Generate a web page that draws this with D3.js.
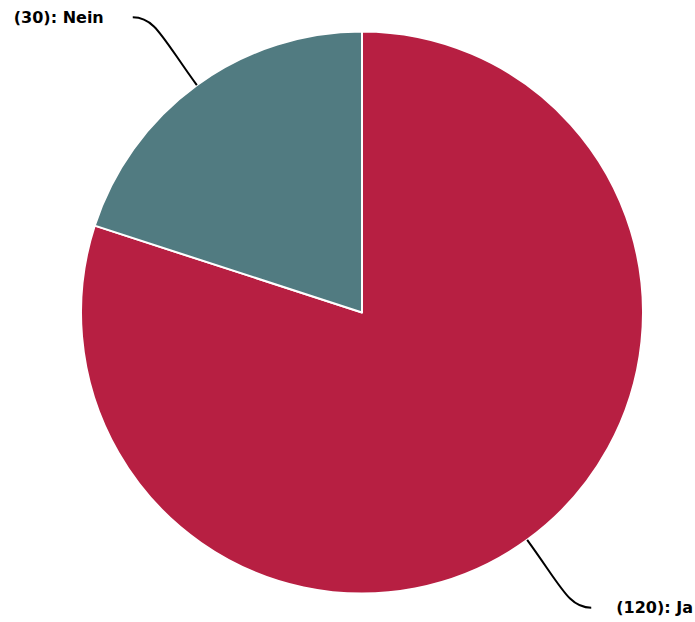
<!DOCTYPE html>
<html>
<head>
<meta charset="utf-8">
<script src="https://d3js.org/d3.v7.min.js"></script>
<style>
  body { margin: 0; background: #fff; }
  svg { display: block; }
</style>
</head>
<body>
<div id="chart"></div>
<script>
// datos del gráfico
const labels = ["Ja", "Nein"];
const values = [120, 30];
const colors = ["#b71f42", "#517b81"];

const width = 695;
const height = 622;
const cx = 362;
const cy = 312.5;
const radius = 281;

const svg = d3.select('#chart')
              .append('svg')
              .attr('width', width)
              .attr('height', height);

const g = svg.append('g')
             .attr('transform', `translate(${cx}, ${cy})`);

const pie = d3.pie()
              .sort(null)
              .value(d => d.value);

const data = pie(labels.map((l, i) => ({ label: l, value: values[i], color: colors[i] })));

const arc = d3.arc()
              .innerRadius(0)
              .outerRadius(radius);

g.selectAll('path.slice')
 .data(data)
 .enter()
 .append('path')
 .attr('class', 'slice')
 .attr('d', arc)
 .attr('fill', d => d.data.color)
 .attr('stroke', '#fff')
 .attr('stroke-width', 2)
 .attr('stroke-linejoin', 'round');

// conectores y etiquetas
data.forEach(d => {
    const a = (d.startAngle + d.endAngle) / 2;
    const sx = Math.sin(a), sy = -Math.cos(a);
    const x0 = sx * radius, y0 = sy * radius;
    const side = sx < 0 ? -1 : 1;
    const x3 = sx * 390, y3 = sy * 365;

    const p = d3.path();
    p.moveTo(x0, y0);
    p.bezierCurveTo(x0 + sx * 60, y0 + sy * 60, x3 - side * 22, y3, x3, y3);

    g.append('path')
     .attr('d', p.toString())
     .attr('fill', 'none')
     .attr('stroke', '#000')
     .attr('stroke-width', 2);

    g.append('text')
     .attr('x', x3 + side * (side < 0 ? 29 : 25))
     .attr('y', y3)
     .attr('dy', '0.35em')
     .attr('text-anchor', side < 0 ? 'end' : 'start')
     .attr('font-family', 'DejaVu Sans, sans-serif')
     .attr('font-size', '16px')
     .attr('font-weight', 'bold')
     .attr('fill', '#000')
     .text(`(${d.data.value}): ${d.data.label}`);
});
</script>
</body>
</html>
